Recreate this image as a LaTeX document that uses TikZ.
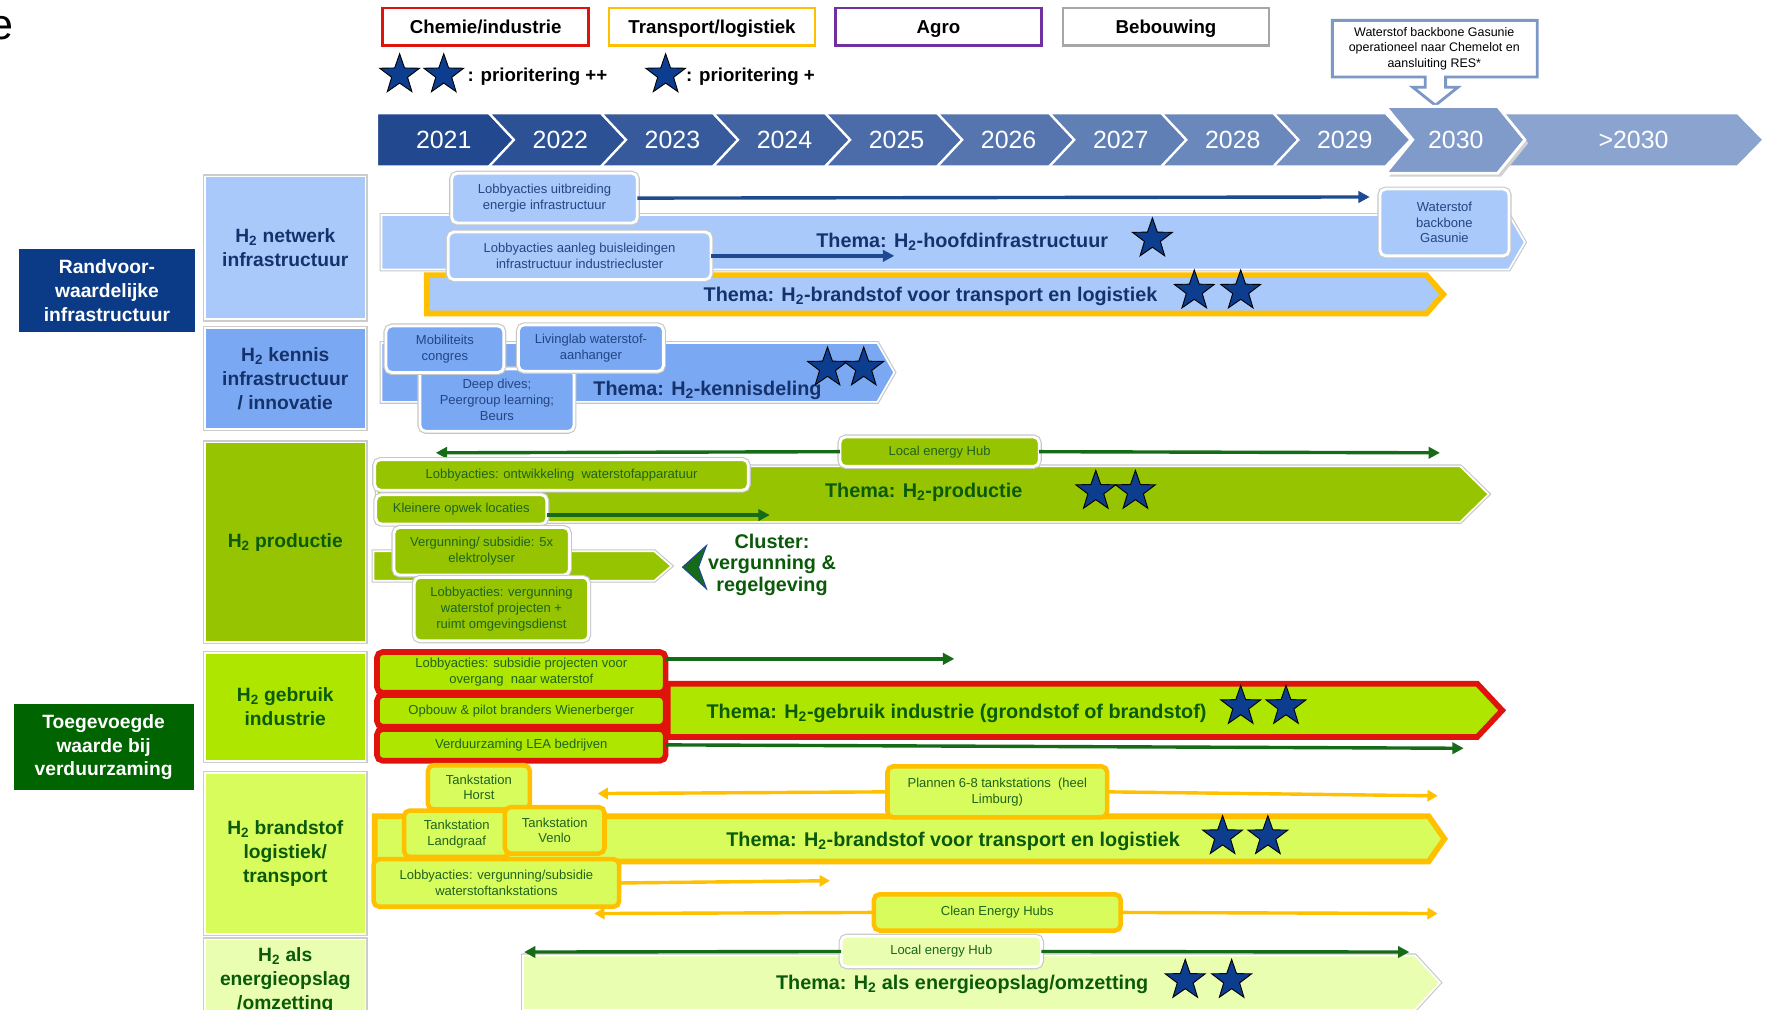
\documentclass[tikz,border=0pt]{standalone}
\usepackage{fontspec}
\setmainfont{Liberation Sans}
\usetikzlibrary{arrows.meta,shapes.geometric}
\definecolor{navybox}{HTML}{0B3A86}
\definecolor{greenbox}{HTML}{006400}
\definecolor{navytxt}{HTML}{15326C}
\definecolor{boxtxt}{HTML}{234684}
\definecolor{dgreen}{HTML}{0A5A0A}
\definecolor{boxgreen}{HTML}{1E641E}
\definecolor{lblue}{HTML}{A9C9FB}
\definecolor{mblue}{HTML}{7AA8F2}
\definecolor{prodgreen}{HTML}{96C400}
\definecolor{limegreen}{HTML}{AEE600}
\definecolor{llime}{HTML}{D8FC5C}
\definecolor{pale}{HTML}{E9FEB0}
\definecolor{redline}{HTML}{E0120C}
\definecolor{gold}{HTML}{FFC000}
\definecolor{agropurple}{HTML}{7030A0}
\definecolor{greyline}{HTML}{A6A6A6}
\definecolor{starblue}{HTML}{0D3D8F}
\definecolor{arrnavy}{HTML}{1E4A92}
\definecolor{arrgreen}{HTML}{166B16}
\definecolor{tlstart}{HTML}{22488F}
\definecolor{tlend}{HTML}{8AA3CF}
\definecolor{callout}{HTML}{7D98C6}
% filled theme arrow: start x, flat end x, tip x, top y, bottom y, options
\newcommand\themeband[6]{\path[#6] (#1,#4) -- (#2,#4) -- (#3,{(#4+#5)/2}) -- (#2,#5) -- (#1,#5) -- cycle;}
\begin{document}
\begin{tikzpicture}[x=1pt,y=-1pt,
  every node/.style={inner sep=0pt, outer sep=0pt},
  sbox/.style={rounded corners=5pt, align=center, font={\fontsize{11.5}{14}\selectfont}},
  bbox/.style={sbox, fill=lblue, draw=white, line width=2.5pt, text=boxtxt, preaction={draw=black!22, line width=4.5pt}},
  mbox/.style={bbox, fill=mblue},
  grbox/.style={sbox, fill=prodgreen, draw=white, line width=2.5pt, text=boxgreen, preaction={draw=black!22, line width=4.5pt}},
  pbox/.style={grbox, fill=pale},
  gbox/.style={sbox, fill=llime, draw=gold, line width=4pt, text=boxgreen},
  rbox/.style={sbox, fill=limegreen, draw=redline, line width=5pt, text=boxgreen},
  theme/.style={font={\bfseries\fontsize{17.5}{20}\selectfont}},
  rowlab/.style={minimum width=142pt, align=center, font={\bfseries\fontsize{17}{21}\selectfont}, draw=white, line width=1.5pt, preaction={draw=black!20, line width=4pt}},
  catlab/.style={align=center, text=white, font={\bfseries\fontsize{17}{21}\selectfont}},
  legendbox/.style={minimum width=182pt, minimum height=33pt, text height=12pt, text depth=0pt, fill=white, line width=2.5pt, font={\bfseries\fontsize{16.5}{19}\selectfont}},
  bstar/.style={star, star points=5, star point ratio=2.5, fill=starblue, draw=black, line width=0.8pt, minimum size=37pt},
  band/.style={line width=1.5pt, draw=white, preaction={draw=black!22, line width=3.5pt}},
  navyarr/.style={draw=arrnavy, line width=3pt, -{Triangle[length=10pt,width=10pt]}},
  greenarr/.style={draw=arrgreen, line width=3pt, -{Triangle[length=10pt,width=10pt]}},
  goldarr/.style={draw=gold, line width=3pt, -{Triangle[length=9pt,width=10pt]}},
  yr/.style={text=white, font={\fontsize{22}{24}\selectfont}}]
\useasboundingbox (0,0) rectangle (1568,892);
\fill[white] (0,0) rectangle (1568,892);

% title remnant
\node[anchor=base east, font={\fontsize{38}{40}\selectfont}] (tt) at (12,35) {e};

% legend
\node[legendbox, draw=redline] (lg1) at (429,23.5) {Chemie/industrie};
\node[legendbox, draw=gold] (lg2) at (629,23.5) {Transport/logistiek};
\node[legendbox, draw=agropurple] (lg3) at (829,23.5) {Agro};
\node[legendbox, draw=greyline] (lg4) at (1030,23.5) {Bebouwing};
\node[bstar] (ls1) at (353,66) {};
\node[bstar] (ls2) at (392,66) {};
\node[anchor=west, font={\bfseries\fontsize{16.5}{19}\selectfont}] (lt1) at (413,68) {: prioritering ++};
\node[bstar] (ls3) at (588,66) {};
\node[anchor=west, font={\bfseries\fontsize{16.5}{19}\selectfont}] (lt2) at (606,68) {: prioritering +};

% callout
\path[fill=white, draw=callout, line width=2.5pt, line join=miter] (1177,18) -- (1358,18) -- (1358,68) -- (1277,68) -- (1277,77) -- (1288,77) -- (1268,93) -- (1248,77) -- (1259,77) -- (1259,68) -- (1177,68) -- cycle;
\node[align=center, font={\fontsize{11}{14}\selectfont}] (cb) at (1267,43) {Waterstof backbone Gasunie\\operationeel naar Chemelot en\\aansluiting RES*};

% timeline
\foreach \yr [count=\k from 0] in {2021,2022,...,2029} {
  \pgfmathtruncatemacro\xa{333+99*\k}
  \pgfmathtruncatemacro\xb{\xa+99}
  \pgfmathtruncatemacro\xc{\xa+121}
  \pgfmathtruncatemacro\xn{\k==0 ? \xa : \xa+22}
  \pgfmathtruncatemacro\pc{\k*10}
  \pgfmathtruncatemacro\xm{\k==0 ? 392 : \xa+63}
  \path[fill=tlend!\pc!tlstart, draw=white, line width=2pt] (\xa,100) -- (\xb,100) -- (\xc,123.5) -- (\xb,147) -- (\xa,147) -- (\xn,123.5) -- cycle;
  \node[yr] (yr\k) at (\xm,123.5) {\yr};
}
\path[fill=tlend, draw=white, line width=2pt] (1323,100) -- (1535,100) -- (1558,123.5) -- (1535,147) -- (1323,147) -- (1345,123.5) -- cycle;
\node[yr] (yrlast) at (1443,123.5) {>2030};
\path[fill=black!18] (1227,97) -- (1326,97) -- (1350,126.5) -- (1326,156) -- (1227,156) -- (1251,126.5) -- cycle;
\path[fill=tlend!90!tlstart, draw=white, line width=2.5pt] (1224,94) -- (1323,94) -- (1347,123.5) -- (1323,153) -- (1224,153) -- (1248,123.5) -- cycle;
\node[yr] (yr9) at (1286,123.5) {2030};

% category labels
\node[catlab, fill=navybox, minimum width=155pt, minimum height=73pt] (c1) at (94.5,256.5) {Randvoor-\\waardelijke\\infrastructuur};
\node[catlab, fill=greenbox, minimum width=159pt, minimum height=76pt] (c2) at (91.5,660) {Toegevoegde\\waarde bij\\verduurzaming};

% row labels
\node[rowlab, fill=lblue, text=navytxt, minimum height=126pt] (r1) at (252,219) {H\textsubscript{2} netwerk\\infrastructuur};
\node[rowlab, fill=mblue, text=navytxt, minimum height=89pt] (r2) at (252,334.5) {H\textsubscript{2} kennis\\infrastructuur\\/ innovatie};
\node[rowlab, fill=prodgreen, text=dgreen, minimum height=176pt] (r3) at (252,479) {H\textsubscript{2} productie};
\node[rowlab, fill=limegreen, text=dgreen, minimum height=95pt] (r4) at (252,624.5) {H\textsubscript{2} gebruik\\industrie};
\node[rowlab, fill=llime, text=dgreen, minimum height=142pt] (r5) at (252,754) {H\textsubscript{2} brandstof\\logistiek/\\transport};
\node[rowlab, fill=pale, text=dgreen, minimum height=72pt] (r6) at (252,866) {H\textsubscript{2} als\\energieopslag\\/omzetting};

% theme arrows
\themeband{337}{1333}{1347}{190}{238}{band, fill=lblue}
\themeband{377}{1260}{1275}{243}{277}{fill=lblue, draw=gold, line width=5pt}
\themeband{337}{775}{790}{303}{355}{band, fill=mblue}
\themeband{333}{1290}{1315}{412}{461}{band, fill=prodgreen}
\themeband{330}{578}{593}{487}{513}{band, fill=prodgreen}
\themeband{590}{1305}{1327}{604}{651}{fill=limegreen, draw=redline, line width=5pt}
\themeband{331}{1262}{1276}{721}{761}{fill=llime, draw=gold, line width=5pt}
\themeband{462}{1250}{1272}{844}{892}{band, fill=pale}

\node[theme, text=navytxt] (t1) at (850,214) {Thema: H\textsubscript{2}-hoofdinfrastructuur};
\node[theme, text=navytxt] (t2) at (822,262) {Thema: H\textsubscript{2}-brandstof voor transport en logistiek};
\node[theme, text=navytxt] (t3) at (625,345) {Thema: H\textsubscript{2}-kennisdeling};
\node[theme, text=dgreen] (t4) at (816,435) {Thema: H\textsubscript{2}-productie};
\node[theme, text=dgreen] (t6) at (845,630) {Thema: H\textsubscript{2}-gebruik industrie (grondstof of brandstof)};
\node[theme, text=dgreen] (t7) at (842,743) {Thema: H\textsubscript{2}-brandstof voor transport en logistiek};
\node[theme, text=dgreen] (t8) at (850,870) {Thema: H\textsubscript{2} als energieopslag/omzetting};

% priority stars
\node[bstar] (s1) at (1018,211) {};
\node[bstar] (s2a) at (1055,257) {};
\node[bstar] (s2b) at (1096,257) {};
\node[bstar] (s3a) at (731,325) {};
\node[bstar] (s3b) at (763,325) {};
\node[bstar] (s4a) at (968,434) {};
\node[bstar] (s4b) at (1003,434) {};
\node[bstar] (s6a) at (1096,624) {};
\node[bstar] (s6b) at (1136,624) {};
\node[bstar] (s7a) at (1080,739) {};
\node[bstar] (s7b) at (1120,739) {};
\node[bstar] (s8a) at (1047,866) {};
\node[bstar] (s8b) at (1088,866) {};

% H2 netwerk
\node[bbox, minimum width=164pt, minimum height=44pt] (lb1) at (481,175) {Lobbyacties uitbreiding\\energie infrastructuur};
\node[bbox, minimum width=114pt, minimum height=59pt] (wb) at (1276,196.5) {Waterstof\\backbone\\Gasunie};
\node[bbox, minimum width=232pt, minimum height=42pt] (lb2) at (512,226) {Lobbyacties aanleg buisleidingen\\infrastructuur industriecluster};
\coordinate (e1) at (1210,174);
\coordinate (e2) at (790,226);
\draw[navyarr] (lb1.east) -- (e1);
\draw[navyarr] (lb2.east) -- (e2);

% H2 kennis
\node[mbox, minimum width=136pt, minimum height=55pt] (dd) at (439,353.5) {Deep dives;\\Peergroup learning;\\Beurs};
\node[mbox, minimum width=104pt, minimum height=41pt] (mc) at (393,308.5) {Mobiliteits\\congres};
\node[mbox, minimum width=128pt, minimum height=41pt] (ll) at (522,307.5) {Livinglab waterstof-\\aanhanger};

% H2 productie
\node[grbox, minimum width=176pt, minimum height=26pt] (leh1) at (830,399) {Local energy Hub};
\coordinate (e3) at (385,400);
\coordinate (e4) at (1272,400);
\draw[greenarr] (leh1.west) -- (e3);
\draw[greenarr] (leh1.east) -- (e4);
\node[grbox, minimum width=330pt, minimum height=27pt] (lo) at (496,419.5) {Lobbyacties: ontwikkeling\ \ waterstofapparatuur};
\node[grbox, minimum width=151pt, minimum height=26pt] (ko) at (407.5,450) {Kleinere opwek locaties};
\coordinate (e5) at (680,455);
\draw[greenarr] ([yshift=-5pt]ko.east) -- (e5);
\node[grbox, minimum width=155pt, minimum height=42pt] (ve) at (425.5,487) {Vergunning/ subsidie: 5x\\elektrolyser};
\node[grbox, minimum width=154pt, minimum height=56pt] (lv) at (443,538) {Lobbyacties: vergunning\\waterstof projecten +\\ruimt omgevingsdienst};
\path[fill=arrgreen, draw=arrnavy, line width=1pt, line join=miter] (624,482) -- (603,501) -- (624,520) -- (617,501) -- cycle;
\node[align=center, text=dgreen, font={\bfseries\fontsize{17.5}{19}\selectfont}] (cl) at (682,499) {Cluster:\\vergunning \&\\regelgeving};

% H2 gebruik industrie
\node[rbox, minimum width=255pt, minimum height=36pt] (g1) at (460.5,594) {Lobbyacties: subsidie projecten voor\\overgang\ \ naar waterstof};
\node[rbox, minimum width=255pt, minimum height=28pt] (g2) at (460.5,628) {Opbouw \& pilot branders Wienerberger};
\node[rbox, minimum width=255pt, minimum height=28pt] (g3) at (460.5,658) {Verduurzaming LEA bedrijven};
\coordinate (e6) at (843,582);
\coordinate (e7) at (1293,661);
\draw[greenarr] ([yshift=12pt]g1.east) -- (e6);
\draw[greenarr] (g3.east) -- (e7);

% H2 brandstof logistiek / transport
\node[gbox, minimum width=90pt, minimum height=39pt] (th) at (423,695.5) {Tankstation\\Horst};
\node[gbox, minimum width=194pt, minimum height=45pt] (pl) at (881,699.5) {Plannen 6-8 tankstations\ \ (heel\\Limburg)};
\coordinate (e8) at (528,701);
\coordinate (e9) at (1270,703);
\draw[goldarr] (pl.west) -- (e8);
\draw[goldarr] (pl.east) -- (e9);
\node[gbox, minimum width=93pt, minimum height=41pt] (tl) at (403.5,736.5) {Tankstation\\Landgraaf};
\node[gbox, minimum width=88pt, minimum height=41pt] (tv) at (490,733.5) {Tankstation\\Venlo};
\node[gbox, minimum width=217pt, minimum height=42pt] (lw) at (438.5,780) {Lobbyacties: vergunning/subsidie\\waterstoftankstations};
\coordinate (e10) at (733,778);
\draw[goldarr] (lw.east) -- (e10);
\node[gbox, minimum width=218pt, minimum height=32pt] (ce) at (881,806) {Clean Energy Hubs};
\coordinate (e11) at (525,807);
\coordinate (e12) at (1270,807);
\draw[goldarr] (ce.west) -- (e11);
\draw[goldarr] (ce.east) -- (e12);

% H2 als energieopslag
\node[pbox, minimum width=177pt, minimum height=27pt] (leh2) at (831.5,840.5) {Local energy Hub};
\coordinate (e13) at (463,841);
\coordinate (e14) at (1245,841);
\draw[greenarr] (leh2.west) -- (e13);
\draw[greenarr] (leh2.east) -- (e14);
\end{tikzpicture}
\end{document}
